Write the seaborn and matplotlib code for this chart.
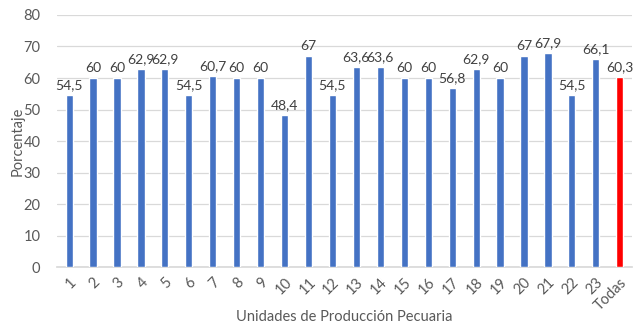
import matplotlib
matplotlib.use("Agg")
import matplotlib.pyplot as plt
import seaborn as sns
import pandas as pd

units = [str(i) for i in range(1, 24)] + ["Todas"]
percent = [54.5, 60, 60, 62.9, 62.9, 54.5, 60.7, 60, 60, 48.4, 67, 54.5,
           63.6, 63.6, 60, 60, 56.8, 62.9, 60, 67, 67.9, 54.5, 66.1, 60.3]
value_labels = ["54,5", "60", "60", "62,9", "62,9", "54,5", "60,7", "60", "60",
                "48,4", "67", "54,5", "63,6", "63,6", "60", "60", "56,8", "62,9",
                "60", "67", "67,9", "54,5", "66,1", "60,3"]

df = pd.DataFrame({"unit": units, "pct": percent})
colors = ["#4472C4"] * 23 + ["#FF0000"]

sns.set_theme(style="white")
plt.rcParams["font.family"] = ["Lato", "DejaVu Sans"]

fig = plt.figure(figsize=(6.42, 3.25), dpi=100)
ax = fig.add_axes([0.089, 0.178, 0.895, 0.776])

sns.barplot(data=df, x="unit", y="pct", hue="unit", palette=colors,
            saturation=1, legend=False, width=0.3, ax=ax, zorder=3)

for i, (v, lab) in enumerate(zip(percent, value_labels)):
    ax.text(i, v + 1.2, lab, ha="center", va="bottom", fontsize=10,
            color="#404040")

ax.set_ylim(0, 80)
ax.set_yticks(range(0, 81, 10))
ax.set_xlim(-0.5, 23.5)
ax.grid(axis="y", color="#D9D9D9", linewidth=0.9, zorder=0)
for s in ["top", "right", "left"]:
    ax.spines[s].set_visible(False)
ax.spines["bottom"].set_color("#D9D9D9")
ax.tick_params(axis="both", length=0, colors="#595959", labelsize=10.5)
ax.tick_params(axis="y", pad=12)
ax.tick_params(axis="x", pad=6)
plt.setp(ax.get_xticklabels(), rotation=45, ha="right", rotation_mode="anchor")
ax.set_xlabel("Unidades de Producción Pecuaria", fontsize=10.5,
              color="#595959", labelpad=-2)
ax.set_ylabel("Porcentaje", fontsize=10.5, color="#595959")
ax.yaxis.set_label_coords(-0.057, 0.5)

fig.savefig("out.png", dpi=100)
